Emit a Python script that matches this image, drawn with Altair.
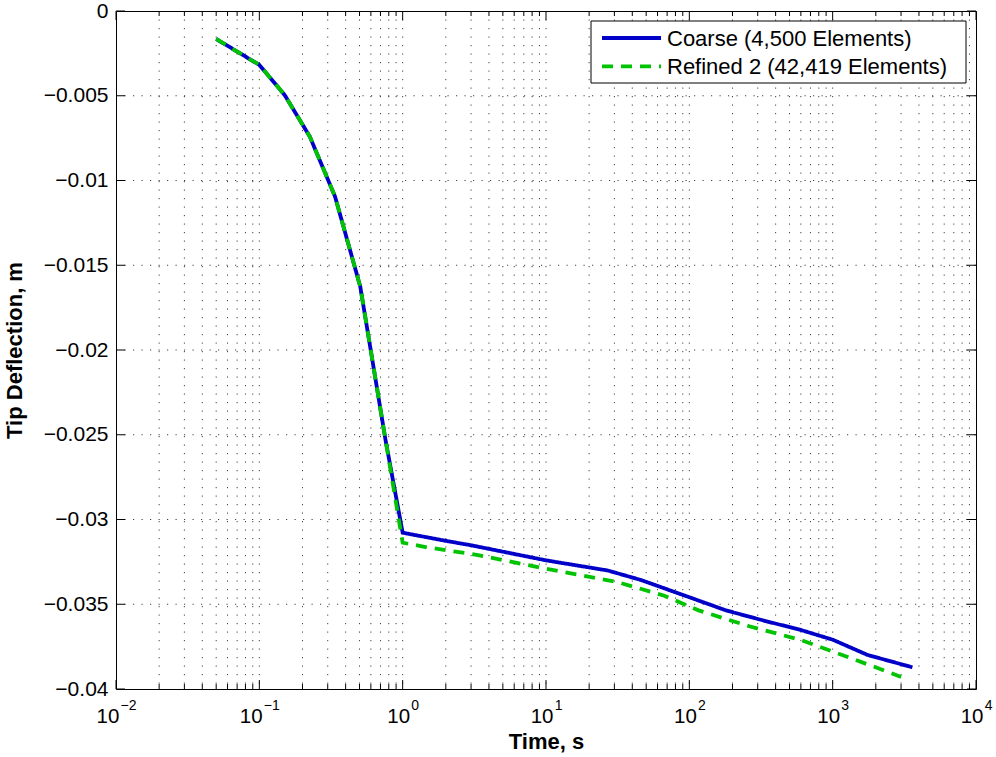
import altair as alt
import pandas as pd

# Tip deflection histories for the two meshes (time in s, deflection in m)
coarse_time = [0.05, 0.1, 0.15, 0.225, 0.3375, 0.506, 0.759, 1.0, 2.0, 3.0,
               10.0, 27.0, 46.0, 98.0, 180.0, 343.0, 590.0, 1000.0, 1750.0, 3600.0]
coarse_defl = [-0.00165, -0.00318, -0.00495, -0.00741, -0.01095, -0.01626, -0.0253,
               -0.03078, -0.03126, -0.03152, -0.03241, -0.03301, -0.03357, -0.03456,
               -0.03536, -0.03600, -0.03650, -0.03709, -0.03799, -0.03872]

refined_time = [0.05, 0.1, 0.15, 0.225, 0.3375, 0.506, 0.759, 1.0, 1.5, 3.2,
                10.0, 31.5, 67.0, 116.0, 262.0, 590.0, 1000.0, 1950.0, 3000.0]
refined_defl = [-0.00165, -0.00318, -0.00495, -0.00741, -0.01095, -0.01626, -0.0253,
                -0.03137, -0.03165, -0.03207, -0.03290, -0.03369, -0.03450, -0.03536,
                -0.03630, -0.03709, -0.03779, -0.03869, -0.03929]

series_names = ["Coarse (4,500 Elements)", "Refined 2 (42,419 Elements)"]
series_colors = ["#0000C8", "#00C400"]
series_dash = [[1, 0], [11, 8]]

x_exponents = [-2, -1, 0, 1, 2, 3, 4]
y_ticks = [0, -0.005, -0.01, -0.015, -0.02, -0.025, -0.03, -0.035, -0.04]

W, H = 860, 678
FONT = "Liberation Sans"
LINE_W = 3.8

xs = alt.Scale(type="log", domain=[0.01, 10000], nice=False)
ys = alt.Scale(domain=[-0.04, 0], nice=False, zero=False)

# One axis definition per channel, shared by every layer so they merge cleanly
x_axis = alt.Axis(title="Time, s", labels=False, ticks=False, domain=False, grid=False,
                  titleFontSize=22, titleFontWeight="bold", titleColor="black",
                  titleX=W / 2, titleY=59, titleBaseline="alphabetic", titleAlign="center")
y_axis = alt.Axis(title="Tip Deflection, m", values=y_ticks, format="~g",
                  ticks=False, domain=False, grid=False,
                  labelFontSize=21, labelColor="black", labelPadding=8,
                  titleFontSize=22, titleFontWeight="bold", titleColor="black",
                  titleX=-95, titleY=H / 2, titleAngle=-90,
                  titleBaseline="alphabetic", titleAlign="center")

lines_df = pd.concat([
    pd.DataFrame({"time": coarse_time, "defl": coarse_defl, "series": series_names[0]}),
    pd.DataFrame({"time": refined_time, "defl": refined_defl, "series": series_names[1]}),
])

major_x = [10.0 ** e for e in x_exponents]
minor_x = [k * 10.0 ** e for e in x_exponents[:-1] for k in range(2, 10)]
grid_x = pd.DataFrame({"time": major_x[1:-1] + minor_x})
grid_y = pd.DataFrame({"defl": y_ticks[1:-1]})
major_x_df = pd.DataFrame({"time": major_x})
minor_x_df = pd.DataFrame({"time": minor_x})
y_tick_df = pd.DataFrame({"defl": y_ticks})

grid_style = dict(color="#111111", strokeWidth=1, strokeDash=[1.2, 7.3], opacity=0.8)

def xrule(df, y0, y1, **style):
    return alt.Chart(df).mark_rule(**style).encode(
        x=alt.X("time:Q", scale=xs, axis=x_axis), y=alt.value(y0), y2=alt.value(y1))

def yrule(df, x0, x1, **style):
    return alt.Chart(df).mark_rule(**style).encode(
        y=alt.Y("defl:Q", scale=ys, axis=y_axis), x=alt.value(x0), x2=alt.value(x1))

tick_style = dict(color="black", strokeWidth=1)
layers = [
    xrule(grid_x, 0, H, **grid_style),
    yrule(grid_y, 0, W, **grid_style),
    xrule(major_x_df, H, H - 9, **tick_style),
    xrule(major_x_df, 0, 9, **tick_style),
    xrule(minor_x_df, H, H - 5, **tick_style),
    xrule(minor_x_df, 0, 5, **tick_style),
    yrule(y_tick_df, 0, 9, **tick_style),
    yrule(y_tick_df, W, W - 9, **tick_style),
]

lines = alt.Chart(lines_df).mark_line(strokeWidth=LINE_W, strokeCap="butt").encode(
    x=alt.X("time:Q", scale=xs, axis=x_axis),
    y=alt.Y("defl:Q", scale=ys, axis=y_axis),
    color=alt.Color("series:N", scale=alt.Scale(domain=series_names, range=series_colors), legend=None),
    strokeDash=alt.StrokeDash("series:N", scale=alt.Scale(domain=series_names, range=series_dash), legend=None),
)
layers.append(lines)

# Decade labels on the log axis: "10" with a raised exponent
exp_df = pd.DataFrame({
    "time": major_x,
    "base": ["10"] * len(x_exponents),
    "exp": [("\u2212" + str(-e)) if e < 0 else str(e) for e in x_exponents],
    "neg": [e < 0 for e in x_exponents],
})
for neg, shift in [(True, 3.3), (False, 7.5)]:
    sub = alt.Chart(exp_df).transform_filter(alt.datum.neg == neg)
    layers.append(sub.mark_text(align="right", baseline="alphabetic", fontSize=20.5, dx=shift,
                                font=FONT, color="black").encode(
        x=alt.X("time:Q", scale=xs, axis=x_axis), y=alt.value(H + 34), text="base:N"))
    layers.append(sub.mark_text(align="left", baseline="alphabetic", fontSize=14, dx=shift + 1.2,
                                font=FONT, color="black").encode(
        x=alt.X("time:Q", scale=xs, axis=x_axis), y=alt.value(H + 21), text="exp:N"))

# Legend box in the upper right corner
legend_df = pd.DataFrame({"series": series_names})
layers.append(alt.Chart(legend_df.head(1)).mark_rect(fill="white", stroke="black", strokeWidth=1).encode(
    x=alt.value(475), x2=alt.value(850), y=alt.value(10), y2=alt.value(72)))
for i, name in enumerate(series_names):
    row_y = 27 + i * 28.3
    row = alt.Chart(legend_df).transform_filter(alt.datum.series == name)
    layers.append(row.mark_rule(color=series_colors[i], strokeWidth=LINE_W, strokeDash=series_dash[i],
                                strokeCap="butt").encode(
        x=alt.value(486), x2=alt.value(545), y=alt.value(row_y)))
    layers.append(row.mark_text(align="left", baseline="middle", fontSize=22, font=FONT,
                                color="black").encode(
        x=alt.value(551), y=alt.value(row_y + 1), text="series:N"))

chart = alt.layer(*layers).properties(
    width=W, height=H,
    padding={"left": 116, "top": 11, "right": 20, "bottom": 68},
    autosize=alt.AutoSizeParams(type="none"),
).configure(font=FONT, background="white").configure_view(stroke="black", strokeWidth=1)

chart.save("out.html", embed_options={"renderer": "svg", "actions": False})
